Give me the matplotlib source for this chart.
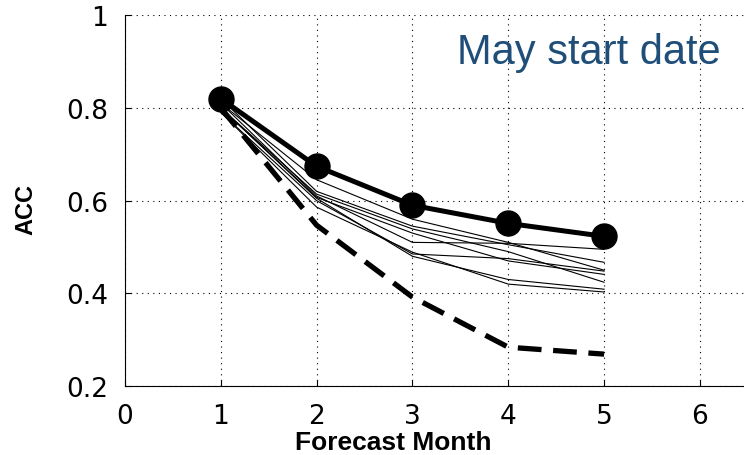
import matplotlib.pyplot as plt

# Forecast months and anomaly correlation (ACC) values
months = [1, 2, 3, 4, 5]

mme_acc = [0.82, 0.674, 0.59, 0.551, 0.523]      # thick line with dots
persist_acc = [0.80, 0.547, 0.392, 0.284, 0.269]  # dashed line

# single models (thin lines)
model_acc = [
    [0.81, 0.645, 0.56, 0.51, 0.45],
    [0.82, 0.62, 0.545, 0.505, 0.467],
    [0.80, 0.614, 0.539, 0.49, 0.424],
    [0.81, 0.61, 0.51, 0.508, 0.495],
    [0.80, 0.607, 0.53, 0.47, 0.441],
    [0.79, 0.60, 0.485, 0.475, 0.448],
    [0.80, 0.605, 0.48, 0.43, 0.409],
    [0.79, 0.586, 0.489, 0.42, 0.403],
]

x_ticks = [0, 1, 2, 3, 4, 5, 6]
y_ticks = [0.2, 0.4, 0.6, 0.8, 1.0]
y_tick_labels = ["0.2", "0.4", "0.6", "0.8", "1"]

plt.rcParams['font.family'] = ['Liberation Sans', 'DejaVu Sans']

fig = plt.figure(figsize=(7.44, 4.56), dpi=100)
ax = fig.add_axes([0.168, 0.151, 0.832, 0.8136])

for vals in model_acc:
    ax.plot(months, vals, color="black", lw=0.8)
ax.plot(months, persist_acc, color="black", lw=3.8, linestyle=(0, (4.5, 2.2)))
ax.plot(months, mme_acc, color="black", lw=3.6, marker="o", markersize=18)

ax.set_xlim(0, 6.46)
ax.set_ylim(0.2, 1.0)
ax.set_xticks(x_ticks)
ax.set_yticks(y_ticks)
ax.set_yticklabels(y_tick_labels)
ax.tick_params(direction="in", length=4, pad=12)
for lab in ax.get_xticklabels() + ax.get_yticklabels():
    lab.set_family("DejaVu Sans")
    lab.set_fontsize(19)
ax.grid(True, linestyle=(0, (1, 4)), color="black", lw=0.8)
ax.spines["top"].set_visible(False)
ax.spines["right"].set_visible(False)

ax.set_xlabel("Forecast Month", fontsize=19, fontweight="bold")
ax.xaxis.set_label_coords(0.433, -0.118)
ax.set_ylabel("ACC", fontsize=17, fontweight="bold")
ax.yaxis.set_label_coords(-0.142, 0.48)

ax.text(0.962, 0.90, "May start date", transform=ax.transAxes, ha="right", va="center",
        fontsize=30, color="#1f4e79")

fig.savefig("out.png", dpi=100)
